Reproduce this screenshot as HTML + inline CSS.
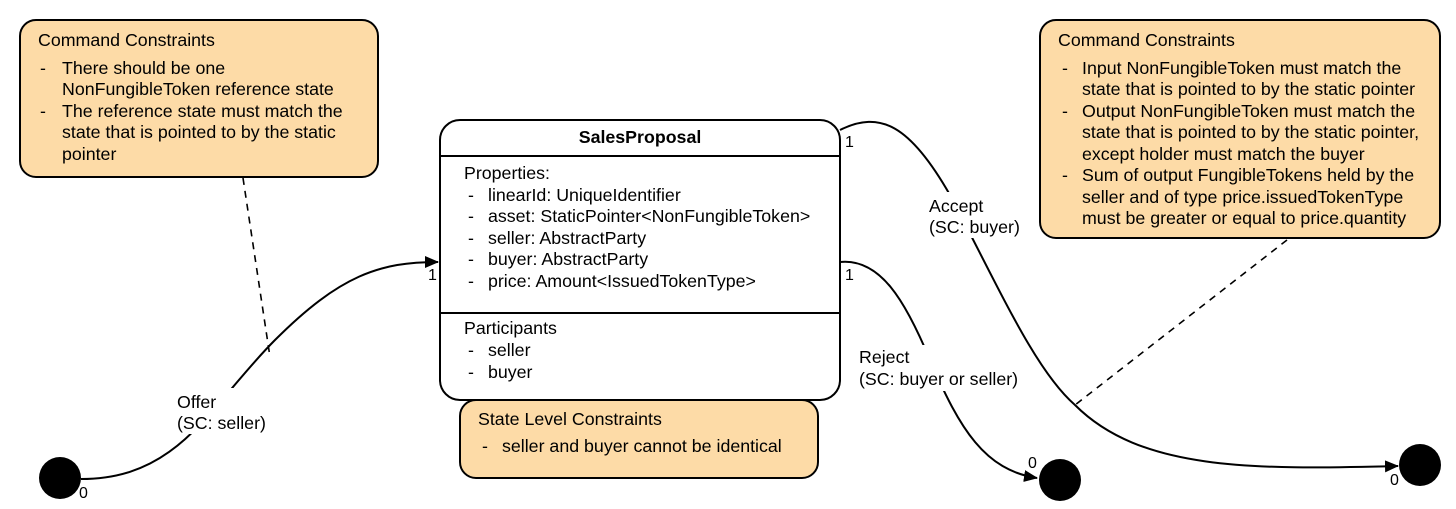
<!DOCTYPE html>
<html><head><meta charset="utf-8"><style>
html,body{margin:0;padding:0;background:#fff;}
svg{display:block;font-family:"Liberation Sans",Arial,sans-serif;font-size:17.8px;}
</style></head><body>
<svg width="1456" height="509" viewBox="0 0 1456 509" xmlns="http://www.w3.org/2000/svg">
<defs>
<marker id="ar" markerWidth="14" markerHeight="12" refX="13" refY="6" orient="auto" markerUnits="userSpaceOnUse"><path d="M0,0 L14,6 L0,12 Z" fill="#000"/></marker>
</defs>
<path d="M243,178 L270,357" stroke="#000" stroke-width="1.6" stroke-dasharray="7,6" fill="none"/>
<path d="M1287,240 L1075,405" stroke="#000" stroke-width="1.6" stroke-dasharray="7,6" fill="none"/>
<path d="M81,479 C180,479 210,405 275,340 C340,275 380,262 438,262" stroke="#000" stroke-width="2" fill="none" marker-end="url(#ar)"/>
<path d="M840,130 C880,110 910,125 950,195 C1000,290 1035,370 1075,405 C1140,470 1250,470 1398,466" stroke="#000" stroke-width="2" fill="none" marker-end="url(#ar)"/>
<path d="M840,262 C880,258 905,300 930,360 C960,430 985,470 1037,478" stroke="#000" stroke-width="2" fill="none" marker-end="url(#ar)"/>
<rect x="172" y="388" width="100" height="46" fill="#fff"/>
<rect x="925" y="192" width="100" height="46" fill="#fff"/>
<rect x="855" y="345" width="170" height="46" fill="#fff"/>
<text x="177" y="408">Offer</text><text x="177" y="429">(SC: seller)</text>
<text x="929" y="212">Accept</text><text x="929" y="233">(SC: buyer)</text>
<text x="859" y="363">Reject</text><text x="859" y="385">(SC: buyer or seller)</text>
<circle cx="60" cy="478" r="21" fill="#000"/>
<circle cx="1060" cy="480" r="21" fill="#000"/>
<circle cx="1420" cy="465" r="21" fill="#000"/>
<text x="79" y="498" font-size="16">0</text>
<text x="1028" y="468" font-size="16">0</text>
<text x="1390" y="485" font-size="16">0</text>
<text x="428" y="280" font-size="16">1</text>
<text x="845" y="147" font-size="16">1</text>
<text x="845" y="280" font-size="16">1</text>
<rect x="20" y="20" width="358" height="157" rx="16" fill="#fddba7" stroke="#000" stroke-width="2"/>
<text x="38" y="46">Command Constraints</text>
<text x="40" y="74">-</text><text x="62" y="74">There should be one</text>
<text x="62" y="95">NonFungibleToken reference state</text>
<text x="40" y="117">-</text><text x="62" y="117">The reference state must match the</text>
<text x="62" y="138">state that is pointed to by the static</text>
<text x="62" y="160">pointer</text>
<rect x="1040" y="20" width="400" height="218" rx="16" fill="#fddba7" stroke="#000" stroke-width="2"/>
<text x="1058" y="46">Command Constraints</text>
<text x="1062" y="74">-</text><text x="1082" y="74">Input NonFungibleToken must match the</text>
<text x="1082" y="95">state that is pointed to by the static pointer</text>
<text x="1062" y="117">-</text><text x="1082" y="117">Output NonFungibleToken must match the</text>
<text x="1082" y="138">state that is pointed to by the static pointer,</text>
<text x="1082" y="160">except holder must match the buyer</text>
<text x="1062" y="181">-</text><text x="1082" y="181">Sum of output FungibleTokens held by the</text>
<text x="1082" y="203">seller and of type price.issuedTokenType</text>
<text x="1082" y="224">must be greater or equal to price.quantity</text>
<rect x="440" y="120" width="400" height="280" rx="20" fill="#fff" stroke="#000" stroke-width="2"/>
<line x1="440" y1="156" x2="840" y2="156" stroke="#000" stroke-width="2"/>
<line x1="440" y1="313" x2="840" y2="313" stroke="#000" stroke-width="2"/>
<text x="640" y="143" text-anchor="middle" font-weight="bold">SalesProposal</text>
<text x="464" y="179">Properties:</text>
<text x="468" y="201">-</text><text x="488" y="201">linearId: UniqueIdentifier</text>
<text x="468" y="222">-</text><text x="488" y="222">asset: StaticPointer&lt;NonFungibleToken&gt;</text>
<text x="468" y="244">-</text><text x="488" y="244">seller: AbstractParty</text>
<text x="468" y="265">-</text><text x="488" y="265">buyer: AbstractParty</text>
<text x="468" y="287">-</text><text x="488" y="287">price: Amount&lt;IssuedTokenType&gt;</text>
<text x="464" y="334">Participants</text>
<text x="468" y="356">-</text><text x="488" y="356">seller</text>
<text x="468" y="378">-</text><text x="488" y="378">buyer</text>
<rect x="460" y="400" width="358" height="78" rx="16" fill="#fddba7" stroke="#000" stroke-width="2"/>
<text x="478" y="425">State Level Constraints</text>
<text x="482" y="452">-</text><text x="502" y="452">seller and buyer cannot be identical</text>
</svg>
</body></html>
